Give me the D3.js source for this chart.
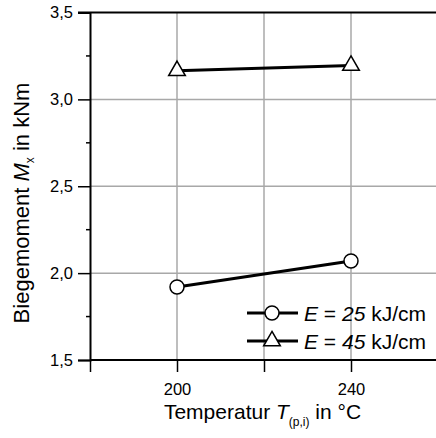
<!DOCTYPE html>
<html><head><meta charset="utf-8">
<script src="https://cdn.jsdelivr.net/npm/d3@7"></script>
<style>body{margin:0;background:#fff}svg{display:block}text{font-family:"Liberation Sans",Arial,sans-serif}</style>
</head><body>
<script>
const temps = [200, 240];
const series25 = [1.92, 2.07];
const series45 = [3.165, 3.195];
const seriesNames = ["25", "45"];
const yTicks = [1.5, 2.0, 2.5, 3.0, 3.5];
const yMinor = [1.75, 2.25, 2.75, 3.25];
const xTicks = [180, 200, 220, 240];
const xLabelTicks = [200, 240];

const W = 436, H = 438;
const svg = d3.select("body").append("svg").attr("width", W).attr("height", H);
const x = d3.scaleLinear().domain([180, 260]).range([90, 438]);
const y = d3.scaleLinear().domain([1.5, 3.5]).range([360, 12.5]);

// grid
svg.append("g").selectAll("line.h").data([2.0, 2.5, 3.0]).join("line")
  .attr("x1", 90).attr("x2", W).attr("y1", d => y(d)).attr("y2", d => y(d))
  .attr("stroke", "#a8a8a8").attr("stroke-width", 1.5);
svg.append("g").selectAll("line.v").data([200, 220, 240]).join("line")
  .attr("x1", d => x(d)).attr("x2", d => x(d)).attr("y1", 12.5).attr("y2", 360)
  .attr("stroke", "#a8a8a8").attr("stroke-width", 1.5);

// top border
svg.append("line").attr("x1", 78).attr("x2", W).attr("y1", y(3.5)).attr("y2", y(3.5))
  .attr("stroke", "#000").attr("stroke-width", 2);

// y axis
const yAxis = d3.axisLeft(y).tickValues(yTicks).tickSize(12).tickFormat(d => d3.format(".1f")(d).replace(".", ","));
const gy = svg.append("g").attr("transform", "translate(90,0)").call(yAxis);
gy.select(".domain").attr("stroke-width", 2);
gy.selectAll(".tick line").attr("stroke-width", 1.5);
gy.selectAll(".tick text").attr("font-size", 16.5).attr("font-family", "Liberation Sans, Arial").attr("dx", -2).attr("fill", "#000");
gy.selectAll("line.minor").data(yMinor).join("line").attr("class", "minor")
  .attr("x1", -4).attr("x2", 0).attr("y1", d => y(d)).attr("y2", d => y(d))
  .attr("stroke", "#000").attr("stroke-width", 1.5);

// x axis
const xAxis = d3.axisBottom(x).tickValues(xTicks).tickSize(12).tickFormat(d => xLabelTicks.includes(d) ? d : "");
const gx = svg.append("g").attr("transform", "translate(0,360)").call(xAxis);
gx.select(".domain").attr("stroke-width", 2).attr("d", `M90,0H${W}`);
gx.selectAll(".tick line").attr("stroke-width", 1.5);
gx.selectAll(".tick text").attr("font-size", 16.5).attr("font-family", "Liberation Sans, Arial").attr("dy", "1.2em").attr("fill", "#000");

// series
const line = d3.line().x(d => x(d[0])).y(d => y(d[1]));
const d25 = temps.map((t, i) => [t, series25[i]]);
const d45 = temps.map((t, i) => [t, series45[i]]);
[d25, d45].forEach(d => svg.append("path").attr("d", line(d)).attr("fill", "none").attr("stroke", "#000").attr("stroke-width", 3));
const tri = d3.symbol().type(d3.symbolTriangle).size(120);
svg.append("g").selectAll("circle").data(d25).join("circle")
  .attr("cx", d => x(d[0])).attr("cy", d => y(d[1])).attr("r", 7)
  .attr("fill", "#fff").attr("stroke", "#000").attr("stroke-width", 1.5);
svg.append("g").selectAll("path").data(d45).join("path")
  .attr("d", tri).attr("transform", d => `translate(${x(d[0])},${y(d[1])})`)
  .attr("fill", "#fff").attr("stroke", "#000").attr("stroke-width", 1.5);

// legend
const leg = svg.append("g");
seriesNames.forEach((n, i) => {
  const ly = 313 + i * 28;
  leg.append("line").attr("x1", 247).attr("x2", 298).attr("y1", ly).attr("y2", ly).attr("stroke", "#000").attr("stroke-width", 3);
  if (i === 0) {
    leg.append("circle").attr("cx", 272).attr("cy", ly).attr("r", 7).attr("fill", "#fff").attr("stroke", "#000").attr("stroke-width", 1.5);
  } else {
    leg.append("path").attr("d", tri).attr("transform", `translate(272,${ly})`).attr("fill", "#fff").attr("stroke", "#000").attr("stroke-width", 1.5);
  }
  const t = leg.append("text").attr("x", 304).attr("y", ly + 7.5).attr("font-size", 21);
  t.append("tspan").attr("font-style", "italic").text("E");
  t.append("tspan").text(" = ");
  t.append("tspan").attr("font-style", "italic").text(n);
  t.append("tspan").text(" kJ/cm");
});

// axis labels
const xl = svg.append("text").attr("x", 262.5).attr("y", 419).attr("text-anchor", "middle").attr("font-size", 21);
xl.append("tspan").text("Temperatur ");
xl.append("tspan").attr("font-style", "italic").text("T");
xl.append("tspan").attr("font-size", 12).attr("dy", 7).text("(p,i)");
xl.append("tspan").attr("dy", -7).text(" in °C");

const yl = svg.append("text").attr("transform", "translate(28.5,203) rotate(-90)").attr("text-anchor", "middle").attr("font-size", 22);
yl.append("tspan").text("Biegemoment ");
yl.append("tspan").attr("font-style", "italic").text("M");
yl.append("tspan").attr("font-size", 12).attr("dy", 5).text("x");
yl.append("tspan").attr("dy", -5).text(" in kNm");
</script>
</body></html>
